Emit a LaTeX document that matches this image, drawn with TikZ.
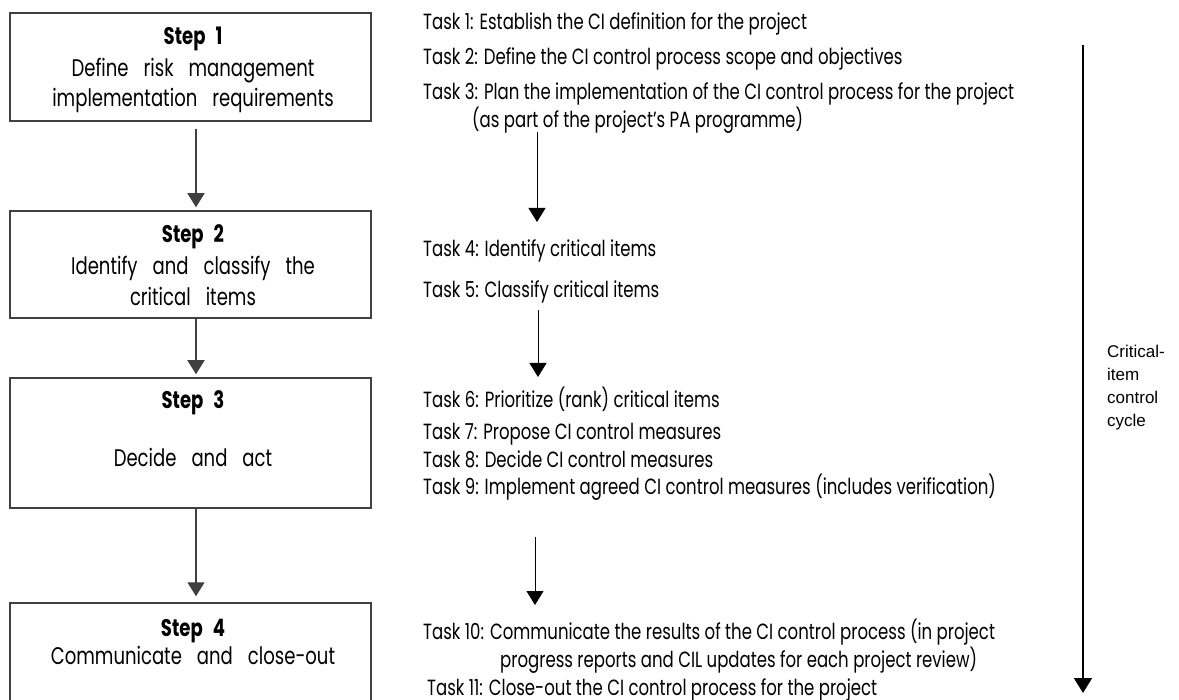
\documentclass[tikz,border=0pt]{standalone}
\usepackage{fontspec}
\setmainfont[FakeStretch=0.752]{Poppins}
\newfontfamily\cyclefont{Liberation Sans}
\usetikzlibrary{arrows.meta}
\newcommand\wsp{\hspace{15pt}}
\tikzset{
  task/.style={anchor=base west, inner sep=0pt, font=\fontsize{22}{26}\selectfont},
  steptxt/.style={anchor=base, inner sep=0pt, font=\fontsize{24}{28}\selectfont},
  stepbox/.style={draw=black!75, line width=1.5pt, inner sep=0pt},
  steparrow/.style={draw=black!75, line width=1.5pt, -{Triangle[width=17pt,length=14pt]}},
  taskarrow/.style={draw=black, line width=1pt, -{Triangle[width=17pt,length=14pt]}},
  cyclearrow/.style={draw=black, line width=2pt, -{Triangle[width=18pt,length=15pt]}},
  cycletxt/.style={anchor=base west, inner sep=0pt, font=\cyclefont\fontsize{17}{23}\selectfont},
}
\begin{document}
\begin{tikzpicture}[x=1pt,y=-1pt]
\useasboundingbox (0,0) rectangle (1179,700);
\fill[white] (0,0) rectangle (1179,700);

% step boxes
\node[stepbox, minimum width=361pt, minimum height=108pt] (s1) at (190.5,67) {};
\node[stepbox, minimum width=361pt, minimum height=107pt] (s2) at (190.5,264.5) {};
\node[stepbox, minimum width=361pt, minimum height=130pt] (s3) at (190.5,443) {};
\node[stepbox, minimum width=361pt, minimum height=99pt] (s4) at (190.5,652.5) {};

% step texts
\node[steptxt] (s1a) at (193,45) {\bfseries Step\hspace{10pt}1};
\node[steptxt] (s1b) at (193,77) {Define\wsp risk\wsp management};
\node[steptxt] (s1c) at (193,107) {implementation\wsp requirements};
\node[steptxt] (s2a) at (193,243) {\bfseries Step\hspace{10pt}2};
\node[steptxt] (s2b) at (193,275) {Identify\wsp and\wsp classify\wsp the};
\node[steptxt] (s2c) at (193,306) {critical\wsp items};
\node[steptxt] (s3a) at (193,409) {\bfseries Step\hspace{10pt}3};
\node[steptxt] (s3b) at (193,467) {Decide\wsp and\wsp act};
\node[steptxt] (s4a) at (193,636) {\bfseries Step\hspace{10pt}4};
\node[steptxt] (s4b) at (193,664) {Communicate\wsp and\wsp close-out};

% step arrows
\draw[steparrow] ([xshift=5.5pt,yshift=-7pt]s1.south) -- ([xshift=5.5pt,yshift=3pt]s2.north);
\draw[steparrow] ([xshift=5.5pt]s2.south) -- ([xshift=5.5pt,yshift=3pt]s3.north);
\draw[steparrow] ([xshift=5.5pt]s3.south) -- ([xshift=5.5pt,yshift=6pt]s4.north);

% tasks
\node[task] (t1) at (423,30) {Task 1: Establish the CI definition for the project};
\node[task] (t2) at (423,65) {Task 2: Define the CI control process scope and objectives};
\node[task] (t3) at (423,100) {Task 3: Plan the implementation of the CI control process for the project};
\node[task] (t3b) at (472,128) {(as part of the project’s PA programme)};
\node[task] (t4) at (423,257) {Task 4: Identify critical items};
\node[task] (t5) at (423,298) {Task 5: Classify critical items};
\node[task] (t6) at (423,408) {Task 6: Prioritize (rank) critical items};
\node[task] (t7) at (423,440) {Task 7: Propose CI control measures};
\node[task] (t8) at (423,468) {Task 8: Decide CI control measures};
\node[task] (t9) at (423,495) {Task 9: Implement agreed CI control measures (includes verification)};
\node[task] (t10) at (423,639) {Task 10: Communicate the results of the CI control process (in project};
\node[task] (t10b) at (500,667) {progress reports and CIL updates for each project review)};
\node[task] (t11) at (427,695) {Task 11: Close-out the CI control process for the project};

% task arrows
\coordinate (a1s) at (537,132);
\coordinate (a1e) at (537,222);
\coordinate (a2s) at (538,310);
\coordinate (a2e) at (538,377);
\coordinate (a3s) at (535,537);
\coordinate (a3e) at (535,605);
\draw[taskarrow] (a1s) -- (a1e);
\draw[taskarrow] (a2s) -- (a2e);
\draw[taskarrow] (a3s) -- (a3e);

% cycle arrow
\coordinate (cs) at (1083,45);
\coordinate (ce) at (1083,693);
\draw[cyclearrow] (cs) -- (ce);
\node[cycletxt] (c1) at (1107,358) {Critical-};
\node[cycletxt] (c2) at (1107,381) {item};
\node[cycletxt] (c3) at (1107,404) {control};
\node[cycletxt] (c4) at (1107,427) {cycle};
\end{tikzpicture}
\end{document}
